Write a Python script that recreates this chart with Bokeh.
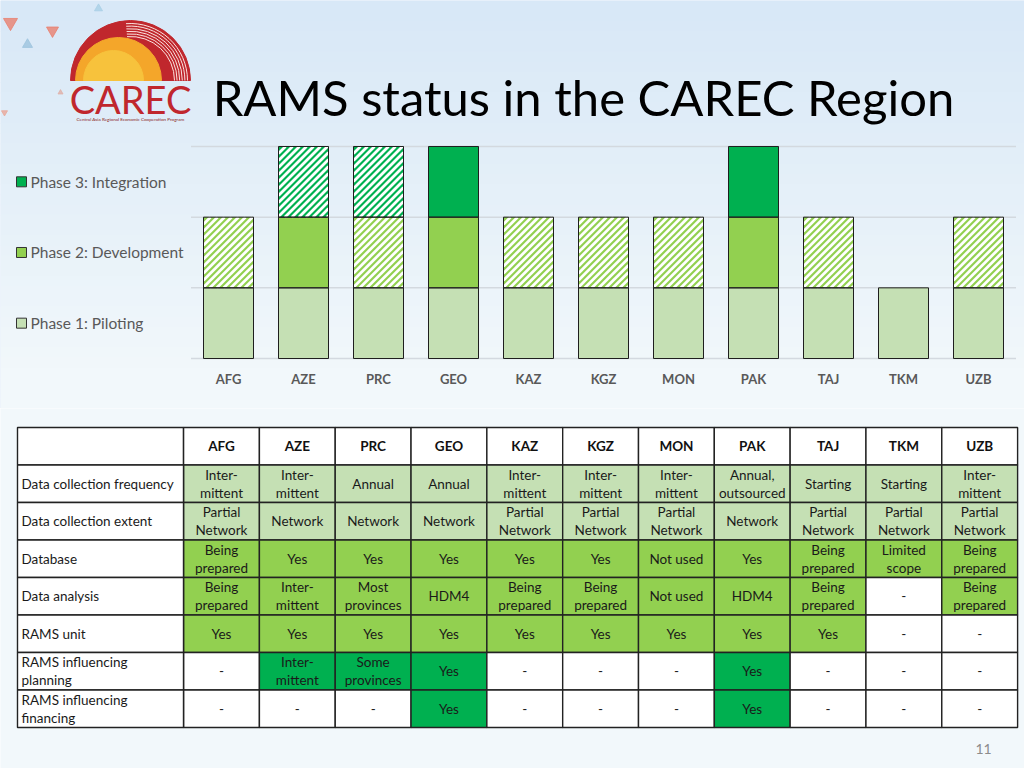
import numpy as np
from bokeh.plotting import figure
from bokeh.models import Range1d, ColumnDataSource
from bokeh.layouts import column
from bokeh.embed import file_html
from bokeh.resources import INLINE
from bokeh.core.properties import value

# ---------------- data ----------------
countries = ["AFG", "AZE", "PRC", "GEO", "KAZ", "KGZ", "MON", "PAK", "TAJ", "TKM", "UZB"]
phase_names = ["Phase 1: Piloting", "Phase 2: Development", "Phase 3: Integration"]
# 2 = achieved (solid), 1 = in progress (hatched), 0 = not reached
phase1_status = [2, 2, 2, 2, 2, 2, 2, 2, 2, 2, 2]
phase2_status = [1, 2, 1, 2, 1, 1, 1, 2, 1, 0, 1]
phase3_status = [0, 1, 1, 2, 0, 0, 0, 2, 0, 0, 0]

row_labels = ["Data collection frequency", "Data collection extent", "Database",
              "Data analysis", "RAMS unit", "RAMS influencing\nplanning",
              "RAMS influencing\nfinancing"]
row_phase = [1, 1, 2, 2, 2, 3, 3]
freq = ["Inter-\nmittent", "Inter-\nmittent", "Annual", "Annual", "Inter-\nmittent",
        "Inter-\nmittent", "Inter-\nmittent", "Annual,\noutsourced", "Starting",
        "Starting", "Inter-\nmittent"]
extent = ["Partial\nNetwork", "Network", "Network", "Network", "Partial\nNetwork",
          "Partial\nNetwork", "Partial\nNetwork", "Network", "Partial\nNetwork",
          "Partial\nNetwork", "Partial\nNetwork"]
database = ["Being\nprepared", "Yes", "Yes", "Yes", "Yes", "Yes", "Not used", "Yes",
            "Being\nprepared", "Limited\nscope", "Being\nprepared"]
analysis = ["Being\nprepared", "Inter-\nmittent", "Most\nprovinces", "HDM4",
            "Being\nprepared", "Being\nprepared", "Not used", "HDM4",
            "Being\nprepared", "-", "Being\nprepared"]
unit = ["Yes", "Yes", "Yes", "Yes", "Yes", "Yes", "Yes", "Yes", "Yes", "-", "-"]
planning = ["-", "Inter-\nmittent", "Some\nprovinces", "Yes", "-", "-", "-", "Yes",
            "-", "-", "-"]
financing = ["-", "-", "-", "Yes", "-", "-", "-", "Yes", "-", "-", "-"]
table_rows = [freq, extent, database, analysis, unit, planning, financing]

# ---------------- style ----------------
FONT = "Lato"
C_P1, C_P2, C_P3 = "#c5e0b4", "#92d050", "#00b050"
phase_colors = [C_P1, C_P2, C_P3]
GREY = "#595959"
W = 1024
HA, HB = 408, 360
BOTTOM_BG = "#f2f8fb"
BAR_HALF = 1 / 3
STRIPE_STEP = 7.0    # px, horizontal period of the diagonal stripes
STRIPE_W = 2.8       # px

# ================= Figure A : title + chart =================
xrA = Range1d(-3.04, 10.6133)
yrA = Range1d(-0.7075, 5.0658)
pA = figure(width=W, height=HA, x_range=xrA, y_range=yrA, output_backend="svg",
            toolbar_location=None, x_axis_location=None, y_axis_location=None,
            min_border=0, outline_line_color=None)
pA.extra_x_ranges = {"px": Range1d(0, 1024)}
pA.extra_y_ranges = {"px": Range1d(-408, 0)}
pA.grid.visible = False
pA.background_fill_color = "#d9e8f7"
pA.border_fill_color = "#d9e8f7"
SX = W / (xrA.end - xrA.start)
SY = HA / (yrA.end - yrA.start)

# background gradient (style only)
nb = 40
top_c = np.array([216, 232, 247])
bot_c = np.array([242, 248, 251])
bands_t, bands_b, bands_c = [], [], []
for j in range(nb):
    f = min(1.0, j / (nb * 0.9))
    c = (top_c * (1 - f) + bot_c * f).astype(int)
    bands_t.append(-(j * 408 / nb))
    bands_b.append(-((j + 1) * 408 / nb) - 1)
    bands_c.append("#%02x%02x%02x" % tuple(c))
pA.quad(left=0, right=1024, top=bands_t, bottom=bands_b, fill_color=bands_c,
        line_color=None, x_range_name="px", y_range_name="px")

# decorative triangles
pA.scatter(x=[10, 52, 27, 98, 75, 4, 60], y=[-22, -30, -44, -8, -70, -112, -92],
           marker=["inverted_triangle", "inverted_triangle", "triangle", "triangle",
                   "inverted_triangle", "inverted_triangle", "triangle"],
           size=[14, 12, 10, 8, 6, 6, 5],
           color=["#e8806f", "#e8806f", "#9cc3dd", "#a9cfe6", "#c5d9ea", "#e8a79a", "#e0b0a8"],
           alpha=0.8, x_range_name="px", y_range_name="px")

# logo
pA.wedge(x=130, y=-80, radius=60, start_angle=0, end_angle=np.pi, radius_units="screen",
         color="#c0272d", x_range_name="px", y_range_name="px")
pA.wedge(x=118, y=-80, radius=43, start_angle=0, end_angle=np.pi, radius_units="screen",
         color="#f4a62a", x_range_name="px", y_range_name="px")
pA.wedge(x=113, y=-80, radius=30, start_angle=0, end_angle=np.pi, radius_units="screen",
         color="#f7c23c", x_range_name="px", y_range_name="px")
pA.arc(x=130, y=-80, radius=[44, 46.6, 49.2, 51.8, 54.4, 57], start_angle=0, end_angle=1.65,
       radius_units="screen", line_color="#fbe3df", line_width=1,
       x_range_name="px", y_range_name="px")
pA.text(x=130, y=-98, text=["CAREC"], text_align="center", text_baseline="middle",
        text_font=value(FONT), text_font_size="38px", text_color="#c0272d",
        x_range_name="px", y_range_name="px")
pA.text(x=130, y=-118, text=["Central Asia Regional Economic Cooperation Program"],
        text_align="center", text_baseline="middle", text_font=value(FONT),
        text_font_size="4.6px", text_color="#8b1d22", x_range_name="px", y_range_name="px")

# title
pA.text(x=583, y=-96, text=["RAMS status in the CAREC Region"], text_align="center",
        text_baseline="alphabetic", text_font=value(FONT), text_font_size="49px",
        text_color="#000000", x_range_name="px", y_range_name="px")

# gridlines
n = len(countries)
pA.segment(x0=-0.5, x1=n - 0.5, y0=[0, 1, 2, 3], y1=[0, 1, 2, 3],
           line_color="#d3d9df", line_width=1.5)


def stripes(xl, xr, yb, yt):
    """diagonal '/' stripes inside a data rectangle, equal 45deg on screen"""
    ul, ur, vb, vt = xl * SX, xr * SX, yb * SY, yt * SY
    x0s, y0s, x1s, y1s = [], [], [], []
    c = ul - vt
    while c < ur - vb:
        va = max(vb, ul - c)
        vbb = min(vt, ur - c)
        if vbb > va:
            x0s.append((c + va) / SX); y0s.append(va / SY)
            x1s.append((c + vbb) / SX); y1s.append(vbb / SY)
        c += STRIPE_STEP
    return x0s, y0s, x1s, y1s


# bars
statuses = [phase1_status, phase2_status, phase3_status]
sx0, sy0, sx1, sy1 = [], [], [], []
for k, st in enumerate(statuses):
    idx = [i for i in range(n) if st[i] > 0]
    pA.quad(left=[i - BAR_HALF for i in idx], right=[i + BAR_HALF for i in idx],
            bottom=k, top=k + 1, fill_color=phase_colors[k], line_color=None)
    for i in range(n):
        if st[i] == 1:
            a, b, c_, d = stripes(i - BAR_HALF, i + BAR_HALF, k, k + 1)
            sx0 += a; sy0 += b; sx1 += c_; sy1 += d
pA.segment(x0=sx0, y0=sy0, x1=sx1, y1=sy1, line_color="white", line_width=STRIPE_W,
           line_cap="butt")
for k, st in enumerate(statuses):
    idx = [i for i in range(n) if st[i] > 0]
    pA.quad(left=[i - BAR_HALF for i in idx], right=[i + BAR_HALF for i in idx],
            bottom=k, top=k + 1, fill_color=None, line_color="#1e1e1e", line_width=1)

# category labels
pA.text(x=list(range(n)), y=-0.283, text=countries, text_align="center",
        text_baseline="middle", text_font=value(FONT), text_font_size="13px",
        text_font_style="bold", text_color=GREY)

# legend
ly = [k + 0.5 for k in range(3)]
pA.rect(x=21, y=ly, width=10, height=10, width_units="screen", height_units="screen",
        fill_color=phase_colors, line_color="#333333", line_width=1, x_range_name="px")
pA.text(x=30, y=ly, text=phase_names, text_align="left", text_baseline="middle",
        text_font=value(FONT), text_font_size="15.5px", text_color=GREY, x_range_name="px")

# ================= Figure B : table =================
pB = figure(width=W, height=HB, x_range=Range1d(-2.9148, 10.591),
            y_range=Range1d(8.593, -1.0067), output_backend="svg",
            toolbar_location=None, x_axis_location=None, y_axis_location=None,
            min_border=0, outline_line_color=None)
pB.extra_x_ranges = {"px": Range1d(0, 1024)}
pB.grid.visible = False
pB.background_fill_color = BOTTOM_BG
pB.border_fill_color = BOTTOM_BG

LINE = "#222222"
# header row
pB.quad(left=17, right=183, top=-0.5, bottom=0.5, fill_color="white",
        line_color=LINE, line_width=1.4, x_range_name="px")
pB.quad(left=[i - 0.5 for i in range(n)], right=[i + 0.5 for i in range(n)], top=-0.5,
        bottom=0.5, fill_color="white", line_color=LINE, line_width=1.4)
pB.text(x=list(range(n)), y=0, text=countries, text_align="center", text_baseline="middle",
        text_font=value(FONT), text_font_size="13.5px", text_font_style="bold",
        text_color="#111111")

cx, cy, ct, cc = [], [], [], []
for r, vals in enumerate(table_rows):
    for i, v in enumerate(vals):
        cx.append(i)
        cy.append(r + 1)
        ct.append(v)
        cc.append("white" if v == "-" else phase_colors[row_phase[r] - 1])
src = ColumnDataSource(dict(x=cx, y=cy, t=ct, c=cc,
                            l=[a - 0.5 for a in cx], rr=[a + 0.5 for a in cx],
                            tp=[b - 0.5 for b in cy], bt=[b + 0.5 for b in cy]))
pB.quad(left="l", right="rr", top="tp", bottom="bt", fill_color="c", source=src,
        line_color=LINE, line_width=1.4)
pB.text(x="x", y="y", text="t", source=src, text_align="center", text_baseline="middle",
        text_font=value(FONT), text_font_size="13.5px", text_color="#1a1a1a",
        text_line_height=1.1)

# row label column
ry = [r + 1 for r in range(len(row_labels))]
pB.quad(left=17, right=183, top=[y - 0.5 for y in ry], bottom=[y + 0.5 for y in ry],
        fill_color="white", line_color=LINE, line_width=1.4, x_range_name="px")
pB.text(x=21, y=ry, text=row_labels, text_align="left", text_baseline="middle",
        text_font=value(FONT), text_font_size="13.5px", text_color="#1a1a1a",
        text_line_height=1.1, x_range_name="px")

# page number
pB.text(x=[983], y=[8.06], text=["11"], text_align="center", text_baseline="middle",
        text_font=value(FONT), text_font_size="14px", text_color="#8c8c8c",
        x_range_name="px")

layout = column(pA, pB, spacing=0)
open("out.html", "w").write(file_html(layout, INLINE))
